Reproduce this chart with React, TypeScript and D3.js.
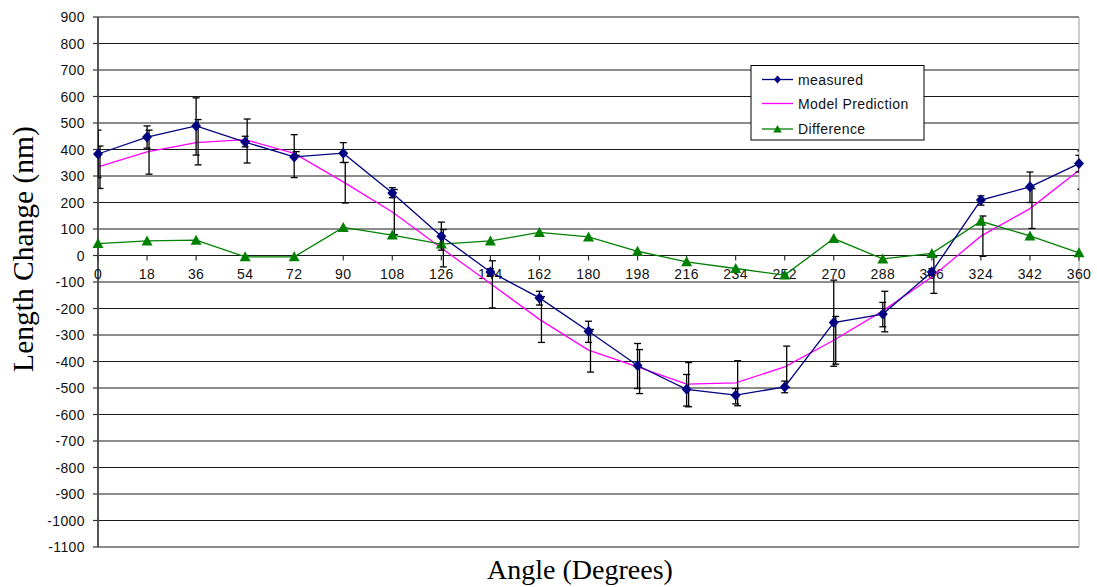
import React, { useEffect, useRef } from "react";
import * as d3 from "d3";

const angles = [0, 18, 36, 54, 72, 90, 108, 126, 144, 162, 180, 198, 216, 234, 252, 270, 288, 306, 324, 342, 360];
const measured = [383, 447, 489, 428, 372, 386, 236, 73, -62, -160, -286, -415, -505, -527, -496, -253, -221, -62, 209, 259, 347];
const model = [334, 391, 426, 437, 385, 278, 164, 28, -106, -241, -357, -420, -485, -481, -420, -320, -209, -81, 73, 177, 322];
const difference = [45, 55, 58, -5, -5, 106, 77, 43, 55, 87, 70, 16, -24, -49, -74, 64, -13, 8, 129, 74, 10];

// error bars, [low, high]
const measuredErr = [
  [294, 473], [405, 489], [379, 595], [410, 450], [294, 456], [351, 426], [218, 256],
  [20, 126], [-75, -50], [-187, -135], [-328, -248], [-502, -332], [-568, -449], [-560, -502],
  [-518, -474], [-418, -93], [-269, -177], [-75, -50], [190, 225], [200, 315], [315, 378],
];
const modelErr = [
  [253, 413], [307, 473], [342, 513], [349, 515], [378, 392], [198, 351], [79, 249],
  [-43, 98], [-198, -20], [-328, -155], [-440, -279], [-521, -355], [-571, -404], [-567, -397],
  [-498, -342], [-410, -230], [-288, -135], [-143, -5], [-3, 149], [102, 252], [250, 395],
];

const yTicks = d3.range(-1100, 901, 100);

const W = 1097;
const H = 587;
const left = 98, right = 1079, top = 17, bottom = 547;

const diamond = "M0,-5.5L5,0L0,5.5L-5,0Z";
const triangle = "M0,-5.5L5.5,4.5L-5.5,4.5Z";

export default function App() {
  const ref = useRef<SVGSVGElement>(null);

  useEffect(() => {
    const svg = d3.select(ref.current);
    svg.selectAll("*").remove();

    const x = d3.scaleLinear().domain([0, 360]).range([left, right]);
    const y = d3.scaleLinear().domain([-1100, 900]).range([bottom, top]);
    const sans = "'Liberation Sans', Arial, sans-serif";
    const serif = "'Liberation Serif', 'Times New Roman', serif";

    svg.append("defs").append("clipPath").attr("id", "plot")
      .append("rect").attr("x", left).attr("y", top).attr("width", right - left).attr("height", bottom - top);

    // gridlines
    svg.append("g").selectAll("line").data(yTicks).enter().append("line")
      .attr("x1", left).attr("x2", right)
      .attr("y1", d => y(d)).attr("y2", d => y(d))
      .attr("stroke", "#1a1a1a").attr("stroke-width", 1.2);

    // right border
    svg.append("line").attr("x1", right).attr("x2", right).attr("y1", top).attr("y2", bottom)
      .attr("stroke", "#999").attr("stroke-width", 1);

    // y axis
    svg.append("line").attr("x1", left).attr("x2", left).attr("y1", top).attr("y2", bottom)
      .attr("stroke", "#555").attr("stroke-width", 2);
    const yg = svg.append("g");
    yg.selectAll("line").data(yTicks).enter().append("line")
      .attr("x1", left - 5).attr("x2", left)
      .attr("y1", d => y(d)).attr("y2", d => y(d))
      .attr("stroke", "#333").attr("stroke-width", 1.2);
    yg.selectAll("text").data(yTicks).enter().append("text")
      .attr("x", 85).attr("y", d => y(d)).attr("dy", "0.36em")
      .attr("text-anchor", "end")
      .style("font-family", sans).style("font-size", "14px").style("letter-spacing", "0.4px")
      .attr("fill", "#111")
      .text(d => d);

    // x axis at zero
    const xg = svg.append("g");
    xg.selectAll("line").data(angles).enter().append("line")
      .attr("x1", d => x(d)).attr("x2", d => x(d))
      .attr("y1", y(0)).attr("y2", y(0) + 5)
      .attr("stroke", "#333").attr("stroke-width", 1.2);
    xg.selectAll("text").data(angles).enter().append("text")
      .attr("x", d => x(d)).attr("y", y(0) + 23)
      .attr("text-anchor", "middle")
      .style("font-family", sans).style("font-size", "14px").style("letter-spacing", "0.4px")
      .attr("fill", "#111")
      .text(d => d);

    // error bars
    const drawErr = (errs: number[][], dx: number) => {
      const g = svg.append("g").attr("clip-path", "url(#plot)")
        .attr("stroke", "#000").attr("stroke-width", 1.3);
      errs.forEach((e, i) => {
        const cx = x(angles[i]) + dx;
        g.append("line").attr("x1", cx).attr("x2", cx).attr("y1", y(e[0])).attr("y2", y(e[1]));
        g.append("line").attr("x1", cx - 3.5).attr("x2", cx + 3.5).attr("y1", y(e[0])).attr("y2", y(e[0]));
        g.append("line").attr("x1", cx - 3.5).attr("x2", cx + 3.5).attr("y1", y(e[1])).attr("y2", y(e[1]));
      });
    };

    const line = d3.line<number>().x((d, i) => x(angles[i])).y(d => y(d));

    svg.append("path").datum(model).attr("d", line)
      .attr("fill", "none").attr("stroke", "#ff00ff").attr("stroke-width", 1.3);
    drawErr(modelErr, 2);

    svg.append("path").datum(difference).attr("d", line)
      .attr("fill", "none").attr("stroke", "#008000").attr("stroke-width", 1.3);
    svg.append("g").selectAll("path").data(difference).enter().append("path")
      .attr("d", triangle)
      .attr("transform", (d, i) => `translate(${x(angles[i])},${y(d)})`)
      .attr("fill", "#008000");

    svg.append("path").datum(measured).attr("d", line)
      .attr("fill", "none").attr("stroke", "#000080").attr("stroke-width", 1.3);
    drawErr(measuredErr, 0);
    svg.append("g").selectAll("path").data(measured).enter().append("path")
      .attr("d", diamond)
      .attr("transform", (d, i) => `translate(${x(angles[i])},${y(d)})`)
      .attr("fill", "#000080");

    // legend
    const lg = svg.append("g");
    lg.append("rect").attr("x", 751).attr("y", 65.5).attr("width", 173).attr("height", 74.5)
      .attr("fill", "#fff").attr("stroke", "#000").attr("stroke-width", 1);
    const items = [
      { name: "measured", color: "#000080", marker: "M0,-4L3.6,0L0,4L-3.6,0Z", cy: 79.5 },
      { name: "Model Prediction", color: "#ff00ff", marker: null, cy: 103.5 },
      { name: "Difference", color: "#008000", marker: "M0,-4L4.2,3.5L-4.2,3.5Z", cy: 129 },
    ];
    items.forEach(it => {
      lg.append("line").attr("x1", 762).attr("x2", 793).attr("y1", it.cy).attr("y2", it.cy)
        .attr("stroke", it.color).attr("stroke-width", 1.3);
      if (it.marker) {
        lg.append("path").attr("d", it.marker).attr("transform", `translate(777.5,${it.cy})`).attr("fill", it.color);
      }
      lg.append("text").attr("x", 798).attr("y", it.cy + 5)
        .style("font-family", sans).style("font-size", "14px").style("letter-spacing", "0.4px")
        .attr("fill", "#111").text(it.name);
    });

    // titles
    svg.append("text")
      .attr("transform", "translate(33,249) rotate(-90)")
      .attr("text-anchor", "middle")
      .style("font-family", serif).style("font-size", "29.5px")
      .attr("fill", "#000")
      .text("Length Change (nm)");
    svg.append("text")
      .attr("x", 580).attr("y", 579)
      .attr("text-anchor", "middle")
      .style("font-family", serif).style("font-size", "28px")
      .attr("fill", "#000")
      .text("Angle (Degrees)");
  }, []);

  return (
    <svg ref={ref} width={W} height={H}
      style={{ position: "absolute", left: 0, top: 0, background: "#fff" }} />
  );
}
